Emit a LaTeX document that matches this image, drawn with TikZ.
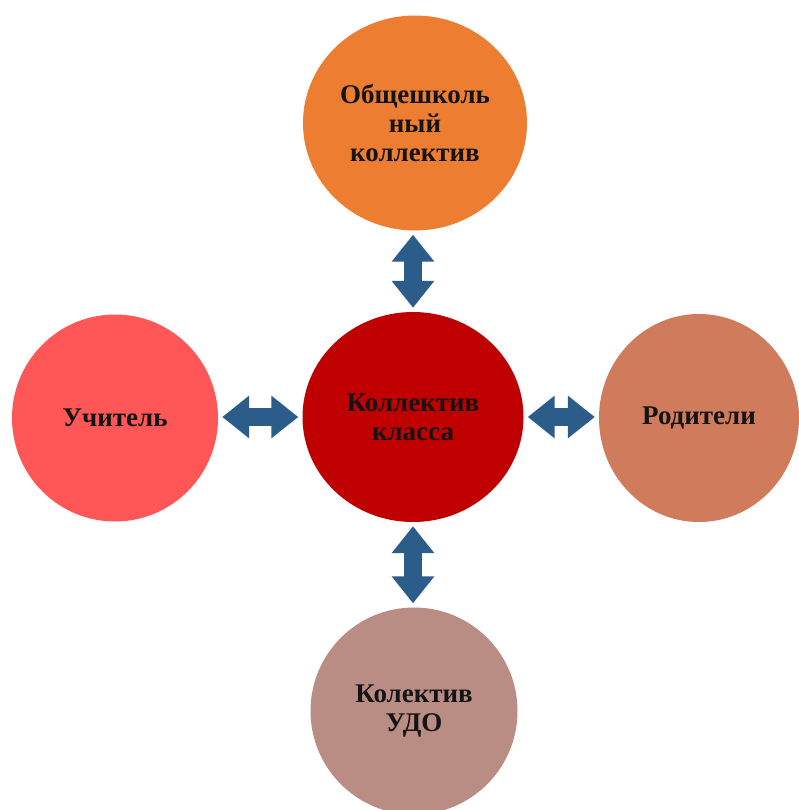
\documentclass[tikz,border=0pt]{standalone}
\usepackage{fontspec}
\setmainfont{Liberation Serif}
\usetikzlibrary{shapes.geometric,arrows.meta}
\definecolor{cTop}{HTML}{ED7D31}
\definecolor{cMid}{HTML}{C00000}
\definecolor{cLeft}{HTML}{FF5757}
\definecolor{cRight}{HTML}{D07B5C}
\definecolor{cBot}{HTML}{B98C84}
\definecolor{cArrow}{HTML}{2C5D8A}
\definecolor{cText}{HTML}{141414}
\tikzset{
  blob/.style={ellipse, draw=none, inner sep=0pt, align=center, text=cText,
    font=\fontsize{27}{29}\selectfont\bfseries},
  link/.style={draw=cArrow, line width=18pt,
    {Triangle[length=27pt,width=41pt]}-{Triangle[length=27pt,width=41pt]},
    shorten <=4pt, shorten >=4pt}
}
\begin{document}
\begin{tikzpicture}[x=1pt,y=1pt]
\useasboundingbox[fill=white] (0,0) rectangle (798,-810);
\node[blob, fill=cMid, minimum width=221pt, minimum height=210pt] (mid) at (413,-417) {Коллектив\\класса};
\node[blob, fill=cTop, minimum width=224pt, minimum height=215pt] (top) at (415,-123) {Общешколь\\ный\\коллектив};
\node[blob, fill=cLeft, minimum width=206pt, minimum height=207pt] (left) at (115,-418) {Учитель};
\node[blob, fill=cRight, minimum width=200pt, minimum height=208pt] (right) at (699,-418) {Родители};
\node[blob, fill=cBot, minimum width=207pt, minimum height=207pt] (bot) at (414,-711) {Колектив\\УДО};
\draw[link] (top.south -| mid.north) -- (mid.north);
\draw[link] (mid.west) -- (left.east |- mid.west);
\draw[link] (mid.east) -- (right.west |- mid.east);
\draw[link] (mid.south) -- (bot.north -| mid.south);
\end{tikzpicture}
\end{document}
